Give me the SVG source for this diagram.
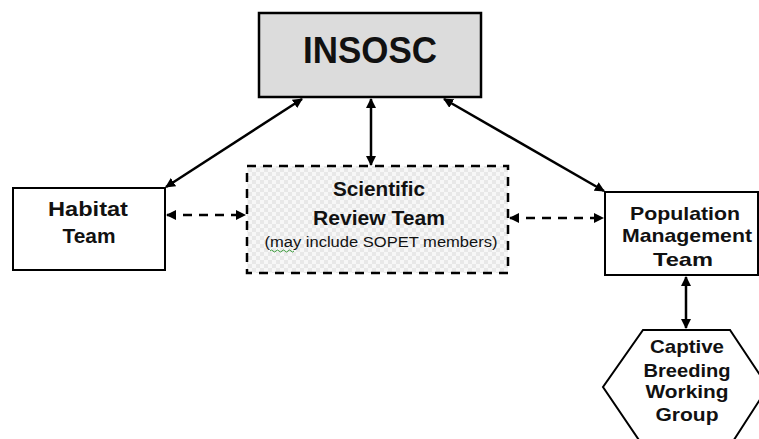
<svg xmlns="http://www.w3.org/2000/svg" width="759" height="439" viewBox="0 0 759 439">
<style>
.box{fill:#fff;stroke:#000;stroke-width:2}
.t{font-family:"Liberation Sans",Arial,sans-serif;font-weight:bold;fill:#111;text-anchor:middle}
.c{stroke:#000;stroke-width:2.5;fill:none}
.d{stroke:#000;stroke-width:2.5;fill:none;stroke-dasharray:9,7}
</style>
<defs>
<pattern id="chk" width="8" height="8" patternUnits="userSpaceOnUse">
<rect width="8" height="8" fill="#f7f7f7"/>
<rect width="4" height="4" fill="#e8e8e8"/>
<rect x="4" y="4" width="4" height="4" fill="#e8e8e8"/>
</pattern>
<marker id="a" viewBox="0 0 10 10" refX="9" refY="5" markerWidth="4" markerHeight="4" orient="auto-start-reverse">
<path d="M0,0 L10,5 L0,10 z" fill="#000"/>
</marker>
</defs>
<rect width="759" height="439" fill="#fff"/>
<g id="connectors">
<line class="c" x1="302" y1="99" x2="166" y2="187" marker-start="url(#a)" marker-end="url(#a)"/>
<line class="c" x1="444" y1="99" x2="604" y2="191" marker-start="url(#a)" marker-end="url(#a)"/>
<line class="c" x1="371" y1="99" x2="371" y2="165" marker-start="url(#a)" marker-end="url(#a)"/>
<line class="d" x1="167" y1="215" x2="245" y2="215" marker-start="url(#a)" marker-end="url(#a)"/>
<line class="d" x1="510" y1="218" x2="603" y2="218" marker-start="url(#a)" marker-end="url(#a)"/>
<line class="c" x1="686" y1="277" x2="686" y2="328" marker-start="url(#a)" marker-end="url(#a)"/>
</g>
<g id="insosc">
<rect x="259" y="13" width="222" height="84" fill="#dcdcdc" stroke="#000" stroke-width="2.5"/>
<text class="t" x="370" y="63" font-size="37" textLength="134" lengthAdjust="spacingAndGlyphs">INSOSC</text>
</g>
<g id="habitat">
<rect class="box" x="13" y="188" width="152" height="82"/>
<text class="t" x="88" y="216" font-size="21" textLength="80" lengthAdjust="spacingAndGlyphs">Habitat</text>
<text class="t" x="89" y="243" font-size="21" textLength="53" lengthAdjust="spacingAndGlyphs">Team</text>
</g>
<g id="scientific">
<rect x="247" y="166" width="261" height="107" fill="url(#chk)" stroke="#000" stroke-width="2.5" stroke-dasharray="9,7"/>
<text class="t" x="379" y="196" font-size="19.5" textLength="92" lengthAdjust="spacingAndGlyphs">Scientific</text>
<text class="t" x="379" y="225" font-size="19.5" textLength="132" lengthAdjust="spacingAndGlyphs">Review Team</text>
<text x="381" y="247" font-size="14" font-family="Liberation Sans,Arial,sans-serif" text-anchor="middle" fill="#111" textLength="233" lengthAdjust="spacingAndGlyphs">(may include SOPET members)</text>
<path d="M270,251 q1.5,-2 3,0 t3,0 t3,0 t3,0 t3,0 t3,0 t3,0 t3,0" fill="none" stroke="#3a9a3a" stroke-width="1"/>
</g>
<g id="population">
<rect class="box" x="605" y="192" width="153" height="83"/>
<text class="t" x="685" y="220" font-size="18.5" textLength="110" lengthAdjust="spacingAndGlyphs">Population</text>
<text class="t" x="687" y="242" font-size="18.5" textLength="130" lengthAdjust="spacingAndGlyphs">Management</text>
<text class="t" x="683" y="266" font-size="18.5" textLength="60" lengthAdjust="spacingAndGlyphs">Team</text>
</g>
<g id="captive">
<polygon class="box" points="643,330 730,330 768,387 730,446 643,446 603,387"/>
<text class="t" x="687" y="353" font-size="18.5" textLength="74" lengthAdjust="spacingAndGlyphs">Captive</text>
<text class="t" x="687" y="377" font-size="18.5" textLength="87" lengthAdjust="spacingAndGlyphs">Breeding</text>
<text class="t" x="687" y="398" font-size="18.5" textLength="83" lengthAdjust="spacingAndGlyphs">Working</text>
<text class="t" x="687" y="421" font-size="18.5" textLength="63" lengthAdjust="spacingAndGlyphs">Group</text>
</g>
</svg>
